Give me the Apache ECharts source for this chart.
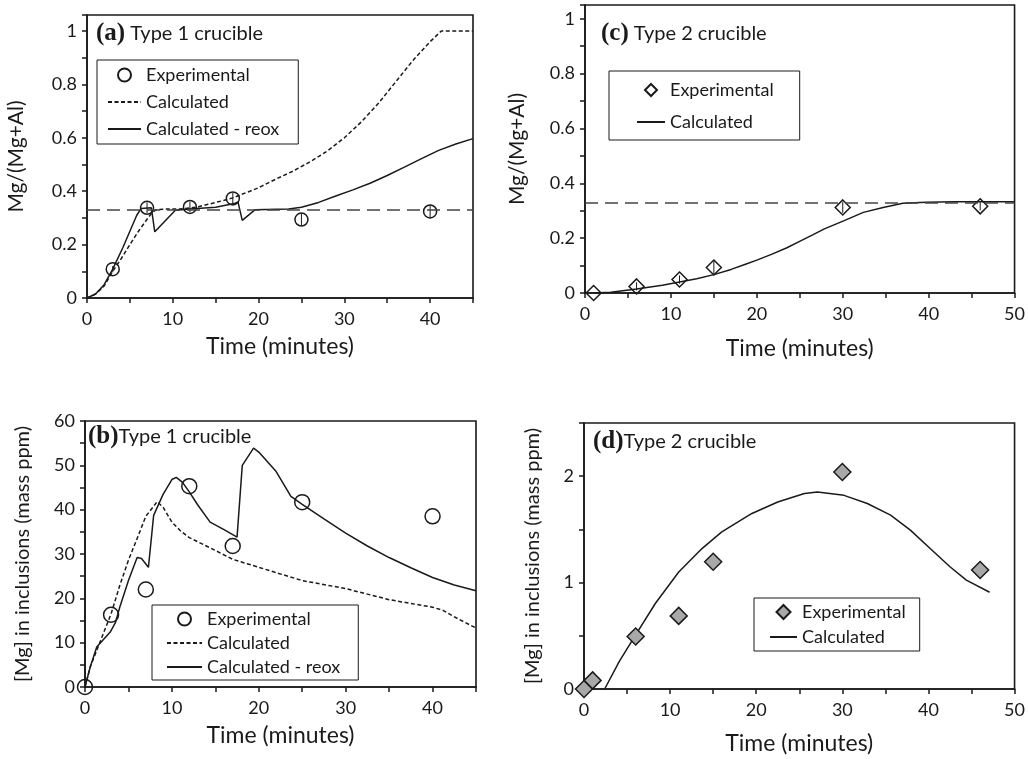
<!DOCTYPE html>
<html>
<head>
<meta charset="utf-8">
<script src="https://cdn.jsdelivr.net/npm/echarts@6/dist/echarts.min.js"></script>
<style>
  html, body { margin: 0; padding: 0; background: #fff; }
  #chart { width: 1028px; height: 759px; }
</style>
</head>
<body>
<div id="chart"></div>
<script>
// (a) Type 1 crucible - Mg/(Mg+Al)
var aExpT = [3, 7, 12, 17, 25, 40];
var aExpY = [0.108, 0.338, 0.341, 0.373, 0.294, 0.324];
var aExpErr = [0.012, 0.02, 0.02, 0.02, 0.022, 0.025];
var aCalcT = [0, 1, 2, 3, 4, 5, 6, 7, 7.5, 8, 9, 10, 11, 12, 13, 14, 15, 16, 17, 18, 19, 20, 22, 24, 26, 28, 30, 32, 34, 36, 38, 40, 41.3, 45];
var aCalcY = [0, 0.015, 0.045, 0.1, 0.148, 0.2, 0.25, 0.295, 0.316, 0.33, 0.333, 0.333, 0.334, 0.337, 0.342, 0.35, 0.358, 0.366, 0.375, 0.388, 0.4, 0.413, 0.445, 0.475, 0.51, 0.55, 0.6, 0.66, 0.73, 0.81, 0.89, 0.96, 1.0, 1.0];
var aReoxT = [0, 1, 2, 3, 4.2, 5.8, 6.3, 7.5, 7.9, 10.3, 12, 15, 17.3, 17.6, 18.1, 19.6, 23.5, 25, 27, 29, 31, 33, 35, 37, 39, 41, 43, 45];
var aReoxY = [0, 0.015, 0.05, 0.108, 0.19, 0.31, 0.335, 0.338, 0.248, 0.329, 0.333, 0.34, 0.355, 0.36, 0.291, 0.331, 0.333, 0.34, 0.358, 0.382, 0.405, 0.43, 0.459, 0.49, 0.522, 0.553, 0.577, 0.597];

// (b) Type 1 crucible - [Mg] in inclusions
var bExpT = [0, 3, 7, 12, 17, 25, 40];
var bExpY = [0, 16.3, 22.0, 45.3, 31.8, 41.7, 38.5];
var bCalcT = [0, 0.6, 1.5, 3, 4, 5, 6, 7, 8.3, 9, 10, 11, 12, 15, 17, 20, 25, 30, 35, 40, 41.2, 43, 45];
var bCalcY = [0, 4.5, 9, 16.5, 22.9, 28.6, 33.5, 38.5, 41.8, 40.5, 37.2, 35.2, 33.7, 30.8, 28.8, 27, 24, 22.2, 19.7, 18.0, 17.3, 15.3, 13.3];
var bReoxT = [0, 0.6, 1.35, 2.9, 3.5, 4, 5, 6, 6.5, 7.3, 7.9, 9, 10, 10.5, 11.2, 12, 13, 14.4, 16, 17.5, 18.1, 19.4, 20, 22, 23.7, 25, 27.5, 30, 32.5, 35, 37.5, 40, 42.5, 45];
var bReoxY = [0, 4.5, 9, 12.4, 14.5, 18, 24, 29.2, 29, 27, 38.7, 43.5, 46.8, 47.3, 46.2, 44, 41, 37.2, 35.5, 33.8, 50, 53.9, 53, 48.6, 43, 41.2, 37.9, 34.7, 31.8, 29.2, 26.9, 24.7, 23.0, 21.7];

// (c) Type 2 crucible - Mg/(Mg+Al)
var cExpT = [1, 6, 11, 15, 30, 46];
var cExpY = [0, 0.024, 0.049, 0.093, 0.312, 0.316];
var cExpErr = [0, 0.015, 0.015, 0.025, 0.02, 0.015];
var cCalcT = [1, 3, 6, 9, 11, 13, 15, 17, 18.6, 20, 21.7, 23.5, 25.1, 26.5, 27.8, 30.1, 32.4, 34.7, 37, 39.7, 43, 50];
var cCalcY = [0, 0.003, 0.015, 0.028, 0.04, 0.052, 0.067, 0.086, 0.104, 0.12, 0.141, 0.165, 0.19, 0.212, 0.233, 0.263, 0.294, 0.312, 0.327, 0.331, 0.333, 0.333];

// (d) Type 2 crucible - [Mg] in inclusions
var dExpT = [0, 1, 6, 11, 15, 30, 46];
var dExpY = [0, 0.081, 0.493, 0.687, 1.196, 2.04, 1.118];
var dCalcT = [2.4, 4.1, 6, 8.3, 11, 13.7, 16, 19.5, 22.5, 25.6, 27.1, 30.2, 32.9, 35.6, 37.9, 40.2, 42.5, 44.4, 47.1];
var dCalcY = [0, 0.259, 0.509, 0.806, 1.1, 1.32, 1.477, 1.65, 1.758, 1.837, 1.852, 1.82, 1.743, 1.634, 1.493, 1.32, 1.149, 1.024, 0.909];

var spinelRatio = 0.333;

var ink = '#1a1a1a';
var font = 'Lato';
var clear = 'rgba(255,255,255,0)';
var diamondPath = 'path://M5,0L10,5L5,10L0,5Z';

function pairs(xs, ys) {
  return xs.map(function (x, i) { return [x, ys[i]]; });
}
function errPairs(xs, ys, es) {
  return xs.map(function (x, i) { return [x, ys[i] - es[i], ys[i] + es[i]]; });
}
function isStep(v, step) {
  var k = v / step;
  return Math.abs(k - Math.round(k)) < 1e-6;
}

function makeX(idx, max, gap) {
  return {
    gridIndex: idx, type: 'value', min: 0, max: max, interval: 5,
    name: 'Time (minutes)', nameLocation: 'middle', nameGap: gap,
    nameTextStyle: { fontFamily: font, fontSize: 23, color: ink },
    axisLine: { lineStyle: { color: ink, width: 1.6 } },
    axisTick: { inside: false, length: 5, lineStyle: { color: ink, width: 1.5 } },
    axisLabel: {
      margin: 12, fontFamily: font, fontSize: 18, color: ink,
      formatter: function (v) { return isStep(v, 10) ? String(v) : ''; }
    },
    splitLine: { show: false }
  };
}

function makeY(idx, max, interval, labelStep, labelMax, name, gap, nameSize) {
  return {
    gridIndex: idx, type: 'value', min: 0, max: max, interval: interval,
    name: name, nameLocation: 'middle', nameGap: gap, nameRotate: 90,
    nameTextStyle: { fontFamily: font, fontSize: nameSize, color: ink },
    axisLine: { lineStyle: { color: ink, width: 1.6 } },
    axisTick: { inside: false, length: 5, lineStyle: { color: ink, width: 1.5 } },
    axisLabel: {
      margin: 10, fontFamily: font, fontSize: 18, color: ink,
      formatter: function (v) {
        return (isStep(v, labelStep) && v <= labelMax + 1e-9) ? String(+v.toFixed(2)) : '';
      }
    },
    splitLine: { show: false }
  };
}

function lineSeries(name, idx, xs, ys, dash) {
  return {
    name: name, type: 'line', xAxisIndex: idx, yAxisIndex: idx,
    data: pairs(xs, ys), symbol: 'none', showSymbol: false, z: 2,
    lineStyle: { color: ink, width: 1.5, type: dash || 'solid' },
    itemStyle: { color: ink }
  };
}

function scatterSeries(name, idx, xs, ys, symbol, size, fill) {
  return {
    name: name, type: 'scatter', xAxisIndex: idx, yAxisIndex: idx,
    data: pairs(xs, ys), symbol: symbol, symbolSize: size, symbolKeepAspect: true, z: 4,
    itemStyle: { color: fill, borderColor: ink, borderWidth: 1.5, opacity: 1 }
  };
}

function errSeries(idx, xs, ys, es) {
  return {
    type: 'custom', xAxisIndex: idx, yAxisIndex: idx, silent: true, z: 3,
    data: errPairs(xs, ys, es),
    renderItem: function (params, api) {
      var lo = api.coord([api.value(0), api.value(1)]);
      var hi = api.coord([api.value(0), api.value(2)]);
      return {
        type: 'line',
        shape: { x1: lo[0], y1: lo[1], x2: hi[0], y2: hi[1] },
        style: { stroke: ink, lineWidth: 1 }
      };
    }
  };
}

function refLine() {
  return {
    silent: true, symbol: 'none', animation: false,
    label: { show: false },
    lineStyle: { color: '#444', width: 1.5, type: [13, 7] },
    data: [{ yAxis: spinelRatio }]
  };
}

// legend entries: marker item keeps its symbol, line items show only the line
function markItem(name, symbol) {
  return { name: name, icon: symbol, symbolKeepAspect: true };
}
function lineItem(name) {
  return { name: name, itemStyle: { color: clear, borderColor: clear, borderWidth: 0 } };
}

function legendBox(left, top, data, iconW, iconH, gap, pad) {
  return {
    left: left, top: top, orient: 'vertical', selectedMode: false,
    data: data, itemWidth: iconW, itemHeight: iconH, itemGap: gap,
    symbolKeepAspect: true,
    padding: pad, borderColor: ink, borderWidth: 1, backgroundColor: '#fff',
    textStyle: { fontFamily: font, fontSize: 18, color: ink },
    formatter: function (n) { return n.replace(/ \[.\]$/, ''); }
  };
}

function panelTitle(letter, text, left, top) {
  return {
    left: left, top: top, padding: 0,
    text: '{b|(' + letter + ')}{n|' + text + '}',
    textStyle: {
      fontWeight: 'normal',
      rich: {
        b: { fontFamily: 'Liberation Serif', fontWeight: 'bold', fontSize: 25, color: ink },
        n: { fontFamily: font, fontWeight: 'normal', fontSize: 20, color: ink }
      }
    }
  };
}

var calcA = lineSeries('Calculated [a]', 0, aCalcT, aCalcY, [4, 2.5]);
calcA.markLine = refLine();
var calcC = lineSeries('Calculated [c]', 2, cCalcT, cCalcY);
calcC.markLine = refLine();
calcC.z = 3;

var option = {
  animation: false,
  backgroundColor: '#fff',
  title: [
    panelTitle('a', ' Type 1 crucible', 96, 21),
    panelTitle('b', 'Type 1 crucible', 88, 424),
    panelTitle('c', ' Type 2 crucible', 601, 21),
    panelTitle('d', 'Type 2 crucible', 593, 429)
  ],
  legend: [
    legendBox(97, 60,
      [markItem('Experimental [a]', 'circle'), lineItem('Calculated [a]'), lineItem('Calculated - reox [a]')],
      33, 13, 9, [6, 19, 6, 10]),
    legendBox(152, 605,
      [markItem('Experimental [b]', 'circle'), lineItem('Calculated [b]'), lineItem('Calculated - reox [b]')],
      35, 13, 6, [5, 18, 4, 14]),
    legendBox(609, 71,
      [markItem('Experimental [c]', diamondPath), lineItem('Calculated [c]')],
      28, 12, 14, [10, 26, 9, 27]),
    legendBox(754, 598,
      [markItem('Experimental [d]', diamondPath), lineItem('Calculated [d]')],
      27, 14, 7, [5, 14, 5, 15])
  ],
  grid: [
    { left: 87, top: 15, width: 386, height: 283, show: true, borderColor: ink, borderWidth: 1.6 },
    { left: 85, top: 421, width: 391, height: 266, show: true, borderColor: ink, borderWidth: 1.6 },
    { left: 585, top: 5, width: 433, height: 288, show: true, borderColor: ink, borderWidth: 1.6 },
    { left: 584, top: 423, width: 434, height: 266, show: true, borderColor: ink, borderWidth: 1.6 }
  ],
  xAxis: [
    makeX(0, 45, 37),
    makeX(1, 45, 37),
    makeX(2, 50, 44),
    makeX(3, 50, 43)
  ],
  yAxis: [
    makeY(0, 1.06, 0.1, 0.2, 1, 'Mg/(Mg+Al)', 60, 21),
    makeY(1, 60, 5, 10, 60, '[Mg] in inclusions (mass ppm)', 52, 20),
    makeY(2, 1.05, 0.1, 0.2, 1, 'Mg/(Mg+Al)', 57, 21),
    makeY(3, 2.5, 0.5, 1, 2, '[Mg] in inclusions (mass ppm)', 41, 20)
  ],
  series: [
    calcA,
    lineSeries('Calculated - reox [a]', 0, aReoxT, aReoxY),
    errSeries(0, aExpT, aExpY, aExpErr),
    scatterSeries('Experimental [a]', 0, aExpT, aExpY, 'circle', 13, clear),

    lineSeries('Calculated [b]', 1, bCalcT, bCalcY, [4, 2.5]),
    lineSeries('Calculated - reox [b]', 1, bReoxT, bReoxY),
    scatterSeries('Experimental [b]', 1, bExpT, bExpY, 'circle', 15, clear),

    calcC,
    errSeries(2, cExpT, cExpY, cExpErr),
    scatterSeries('Experimental [c]', 2, cExpT, cExpY, 'diamond', 15, clear),

    lineSeries('Calculated [d]', 3, dCalcT, dCalcY),
    scatterSeries('Experimental [d]', 3, dExpT, dExpY, 'diamond', 17, '#a8a8a8')
  ]
};

var chart = echarts.init(document.getElementById('chart'));
chart.setOption(option);
</script>
</body>
</html>
